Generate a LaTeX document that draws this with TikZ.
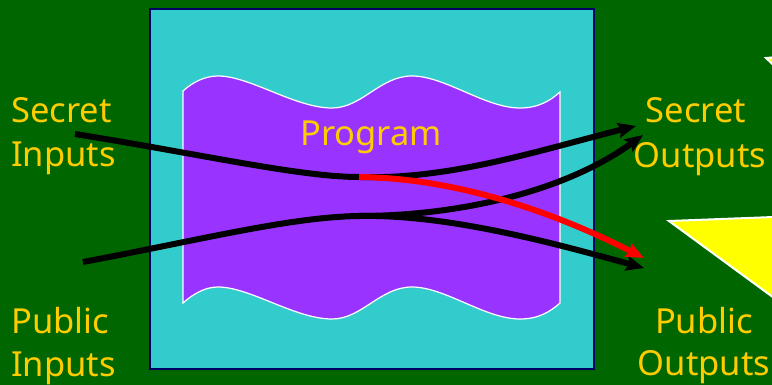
\documentclass[tikz,border=0pt]{standalone}
\usepackage{fontspec}
\setmainfont{Noto Sans}
\usetikzlibrary{arrows.meta}
\definecolor{bggreen}{HTML}{006600}
\definecolor{boxcyan}{HTML}{33CCCC}
\definecolor{boxnavy}{HTML}{000066}
\definecolor{progpurple}{HTML}{9933FF}
\definecolor{labelgold}{HTML}{FFCC00}
\definecolor{flowred}{HTML}{FF0000}
\definecolor{calloutyellow}{HTML}{FFFF00}

\begin{document}
\begin{tikzpicture}[x=1pt,y=-1pt,
  lbl/.style={text=labelgold, font=\fontsize{34.5}{44}\selectfont, inner sep=0pt},
  flow/.style={line width=6pt, -{Stealth[length=18pt,width=15pt,inset=3pt]}},
  callout/.style={fill=calloutyellow, draw=white, line width=2pt, line join=miter}]

% canvas
\fill[bggreen] (0,0) rectangle (772,385);
\useasboundingbox (0,0) rectangle (772,385);
\clip (0,0) rectangle (772,385);

% callout pieces at the right border
\draw[callout] (766,58) -- (800,55) -- (800,90) -- cycle;
\draw[callout] (669,221) -- (800,216) -- (800,317) -- cycle;

% system box
\draw[boxnavy, fill=boxcyan, line width=1.5pt] (150,9) rectangle (594,369);

% program sheet with wavy edges
\draw[white, fill=progpurple, line width=1.2pt]
  (183,91) .. controls (193,82) and (205,76) .. (218,76)
  .. controls (250,76) and (295,108) .. (332,108)
  .. controls (362,108) and (380,76) .. (412,76)
  .. controls (445,76) and (485,108) .. (520,108)
  .. controls (538,108) and (550,101) .. (560,92)
  -- (560,303)
  .. controls (550,312) and (538,319) .. (520,319)
  .. controls (485,319) and (445,287) .. (412,287)
  .. controls (380,287) and (362,319) .. (332,319)
  .. controls (295,319) and (250,287) .. (218,287)
  .. controls (205,287) and (193,294) .. (183,303)
  -- cycle;

\node[lbl, anchor=base] (prog) at (371,146) {Program};

% labels
\node[lbl, anchor=base west] (secInA) at (11,123) {Secret};
\node[lbl, anchor=base west] (secInB) at (11,167) {Inputs};
\node[lbl, anchor=base west] (pubInA) at (11,333) {Public};
\node[lbl, anchor=base west] (pubInB) at (11,376) {Inputs};
\node[lbl, anchor=base] (secOutA) at (696,123) {Secret};
\node[lbl, anchor=base] (secOutB) at (700,168) {Outputs};
\node[lbl, anchor=base] (pubOutA) at (704,333) {Public};
\node[lbl, anchor=base] (pubOutB) at (704,375) {Outputs};

% flow end points
\coordinate (sin) at (75,134);
\coordinate (pin) at (83,262);
\coordinate (mixS) at (359,177);
\coordinate (mixP) at (359,216);
\coordinate (sout1) at (636,126);
\coordinate (sout2) at (643,135);
\coordinate (pout1) at (644,258);
\coordinate (pout2) at (644,268);

% information flows
\draw[flow] (sin) .. controls (200,154) and (300,177) .. (mixS)
  .. controls (450,180) and (540,150) .. (sout1);
\draw[flow] (pin) .. controls (200,240) and (290,217) .. (mixP)
  .. controls (450,214) and (560,245) .. (pout2);
\draw[flow] (mixP) .. controls (450,216) and (560,195) .. (sout2);
\draw[flow, flowred] (mixS) .. controls (460,178) and (560,215) .. (pout1);

\end{tikzpicture}
\end{document}
